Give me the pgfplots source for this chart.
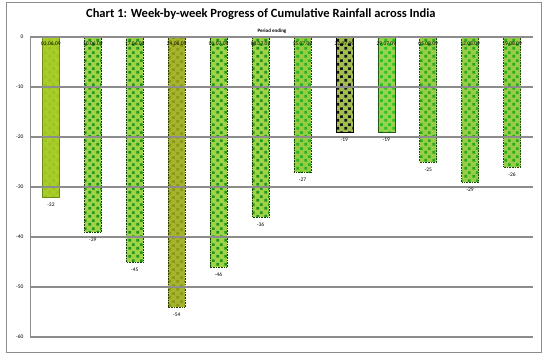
\documentclass[border=0pt]{standalone}
\usepackage{pgfplots}
\pgfplotsset{compat=1.18}
\usepackage{fontspec}
\setmainfont{Carlito}
\usetikzlibrary{patterns.meta}
\tikzdeclarepattern{name=mycheck, type=uncolored, bounding box={(0,0) and (8pt,8pt)}, tile size={(8pt,8pt)},
  code={\fill (0.5pt,0.5pt) rectangle (3.5pt,3.5pt); \fill (4.5pt,4.5pt) rectangle (7.5pt,7.5pt);}}
\definecolor{gridgray}{HTML}{8C8C8C}
\begin{document}
\begin{tikzpicture}
\begin{axis}[
  scale only axis, width=503pt, height=300pt,
  xmin=-0.5, xmax=11.5, ymin=-60, ymax=0,
  ybar, bar width=17pt, bar shift=0pt,
  axis on top,
  axis x line*=top, axis y line*=left,
  axis line style={gridgray, line width=0.8pt},
  x axis line style={line width=1.6pt},
  ymajorgrids, grid style={gridgray, line width=1.1pt},
  major tick length=0pt,
  /pgf/number format/assume math mode=true,
  ytick={-60,-50,-40,-30,-20,-10,0},
  yticklabels={-60,-50,-40,-30,-20,-10,0},
  yticklabel style={font=\fontsize{5.5}{6}\selectfont, xshift=-3pt},
  xtick={0,...,11},
  xticklabels={03.06.09,10.06.09,17.06.09,24.06.09,01.07.09,08.07.09,15.07.09,22.07.09,29.07.09,05.08.09,12.08.09,19.08.09},
  xticklabel style={font=\fontsize{5.5}{6}\selectfont, anchor=north, yshift=-1pt},
  nodes near coords,
  nodes near coords style={font=\fontsize{5.5}{6}\selectfont, black, yshift=-2pt},
  clip=false,
]
\path (rel axis cs:-0.0596,-0.0833) rectangle (rel axis cs:1.0298,1.1233);
\draw[gridgray, line width=0.8pt] (rel axis cs:-0.0477,-0.05) rectangle (rel axis cs:1.0159,1.1167);
\addplot[fill={rgb,255:red,168;green,204;blue,42}, draw={rgb,255:red,110;green,140;blue,20}, line width=0.4pt,
  postaction={pattern={mycheck}, pattern color={rgb,255:red,156;green,196;blue,30}}]
  coordinates {(0,-32)};
\addplot[fill={rgb,255:red,160;green,210;blue,72}, draw={rgb,255:red,20;green,60;blue,10}, densely dotted, line width=0.6pt,
  postaction={pattern={mycheck}, pattern color={rgb,255:red,30;green,150;blue,25}}]
  coordinates {(1,-39) (2,-45) (4,-46) (5,-36)};
\addplot[fill={rgb,255:red,165;green,180;blue,46}, draw={rgb,255:red,40;green,60;blue,10}, densely dotted, line width=0.6pt,
  postaction={pattern={mycheck}, pattern color={rgb,255:red,140;green,150;blue,20}}]
  coordinates {(3,-54)};
\addplot[fill={rgb,255:red,150;green,205;blue,64}, draw={rgb,255:red,20;green,60;blue,10}, densely dotted, line width=0.6pt,
  postaction={pattern={mycheck}, pattern color={rgb,255:red,45;green,175;blue,40}}]
  coordinates {(6,-27)};
\addplot[fill={rgb,255:red,160;green,190;blue,80}, draw=black, line width=0.5pt,
  postaction={pattern={mycheck}, pattern color={rgb,255:red,20;green,20;blue,10}}]
  coordinates {(7,-19)};
\addplot[fill={rgb,255:red,155;green,208;blue,80}, draw={rgb,255:red,40;green,90;blue,20}, line width=0.5pt,
  postaction={pattern={mycheck}, pattern color={rgb,255:red,35;green,195;blue,30}}]
  coordinates {(8,-19)};
\addplot[fill={rgb,255:red,155;green,204;blue,70}, draw={rgb,255:red,30;green,70;blue,15}, densely dotted, line width=0.6pt,
  postaction={pattern={mycheck}, pattern color={rgb,255:red,35;green,170;blue,30}}]
  coordinates {(9,-25) (10,-29) (11,-26)};
\node[font=\bfseries\fontsize{12.5}{14}\selectfont] at (rel axis cs:0.459,1.0767) {Chart 1: Week-by-week Progress of Cumulative Rainfall across India};
\node[font=\bfseries\fontsize{5}{6}\selectfont] at (rel axis cs:0.481,1.02) {Period ending};
\end{axis}
\end{tikzpicture}
\end{document}
